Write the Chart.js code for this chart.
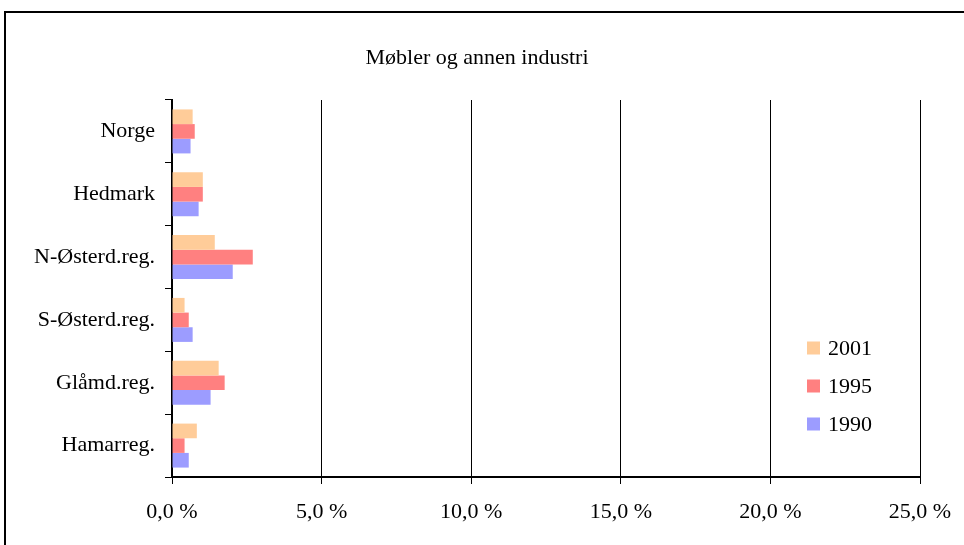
<!DOCTYPE html>
<html>
<head>
<meta charset="utf-8">
<script src="https://cdn.jsdelivr.net/npm/chart.js@4"></script>
<style>
  html, body { margin: 0; padding: 0; background: #fff; overflow: hidden; }
  #wrap { position: relative; width: 964px; height: 545px; }
  #frame { position: absolute; left: 4px; top: 11px; width: 1000px; height: 600px; border: 2px solid #000; box-sizing: border-box; }
  #c { position: absolute; left: 0; top: 0; }
</style>
</head>
<body>
<div id="wrap">
  <div id="frame"></div>
  <canvas id="c" width="964" height="545"></canvas>
</div>
<script>
const chartTitle = 'Møbler og annen industri';
const categories = ['Norge', 'Hedmark', 'N-Østerd.reg.', 'S-Østerd.reg.', 'Glåmd.reg.', 'Hamarreg.'];
const seriesLabels = ['2001', '1995', '1990'];
const values2001 = [0.69, 1.03, 1.43, 0.42, 1.56, 0.83];
const values1995 = [0.76, 1.03, 2.70, 0.56, 1.76, 0.42];
const values1990 = [0.62, 0.89, 2.03, 0.69, 1.29, 0.56];
const seriesColors = ['#FFCC99', '#FF8080', '#9C9CFF'];
const xTicks = [0, 5, 10, 15, 20, 25];

const FONT = '"Liberation Serif", "Times New Roman", serif';
const FSIZE = 22;

const overlay = {
  id: 'overlay',
  afterDraw(chart) {
    const ctx = chart.ctx;
    ctx.save();
    ctx.fillStyle = '#000';
    ctx.font = FSIZE + 'px ' + FONT;
    ctx.textAlign = 'center';
    ctx.textBaseline = 'middle';
    ctx.fillText(chartTitle, 477, 58);
    // legend
    const ys = [348, 386, 424];
    chart.data.datasets.forEach((ds, i) => {
      ctx.fillStyle = ds.backgroundColor;
      ctx.fillRect(807, ys[i] - 6.5, 13, 13);
      ctx.fillStyle = '#000';
      ctx.textAlign = 'left';
      ctx.fillText(ds.label, 828, ys[i] + 1);
    });
    ctx.restore();
  }
};

new Chart(document.getElementById('c'), {
  type: 'bar',
  data: {
    labels: categories,
    datasets: [
      { label: seriesLabels[0], data: values2001, backgroundColor: seriesColors[0] },
      { label: seriesLabels[1], data: values1995, backgroundColor: seriesColors[1] },
      { label: seriesLabels[2], data: values1990, backgroundColor: seriesColors[2] }
    ]
  },
  options: {
    indexAxis: 'y',
    responsive: false,
    animation: false,
    categoryPercentage: 0.7,
    barPercentage: 1.0,
    layout: { padding: { left: 0, top: 100, right: 44, bottom: 0 } },
    plugins: {
      legend: { display: false },
      title: { display: false },
      tooltip: { enabled: false }
    },
    scales: {
      x: {
        min: 0, max: 25,
        afterBuildTicks(scale) { scale.ticks = xTicks.map(v => ({ value: v })); },
        afterFit(scale) { scale.height = 68; scale.paddingLeft = 0; scale.paddingRight = 0; },
        grid: { color: '#000', lineWidth: 1, tickLength: 7, drawTicks: true },
        border: { color: '#000', width: 2 },
        ticks: {
          color: '#000',
          font: { family: FONT, size: FSIZE },
          padding: 15,
          maxRotation: 0,
          callback: v => v.toFixed(1).replace('.', ',') + ' %'
        }
      },
      y: {
        afterFit(scale) { scale.width = 172; scale.paddingTop = 0; scale.paddingBottom = 0; },
        grid: { drawOnChartArea: false, color: '#000', lineWidth: 1, tickLength: 7, offset: true },
        border: { color: '#000', width: 2 },
        ticks: {
          color: '#000',
          font: { family: FONT, size: FSIZE },
          padding: 10
        }
      }
    }
  },
  plugins: [overlay]
});
</script>
</body>
</html>
